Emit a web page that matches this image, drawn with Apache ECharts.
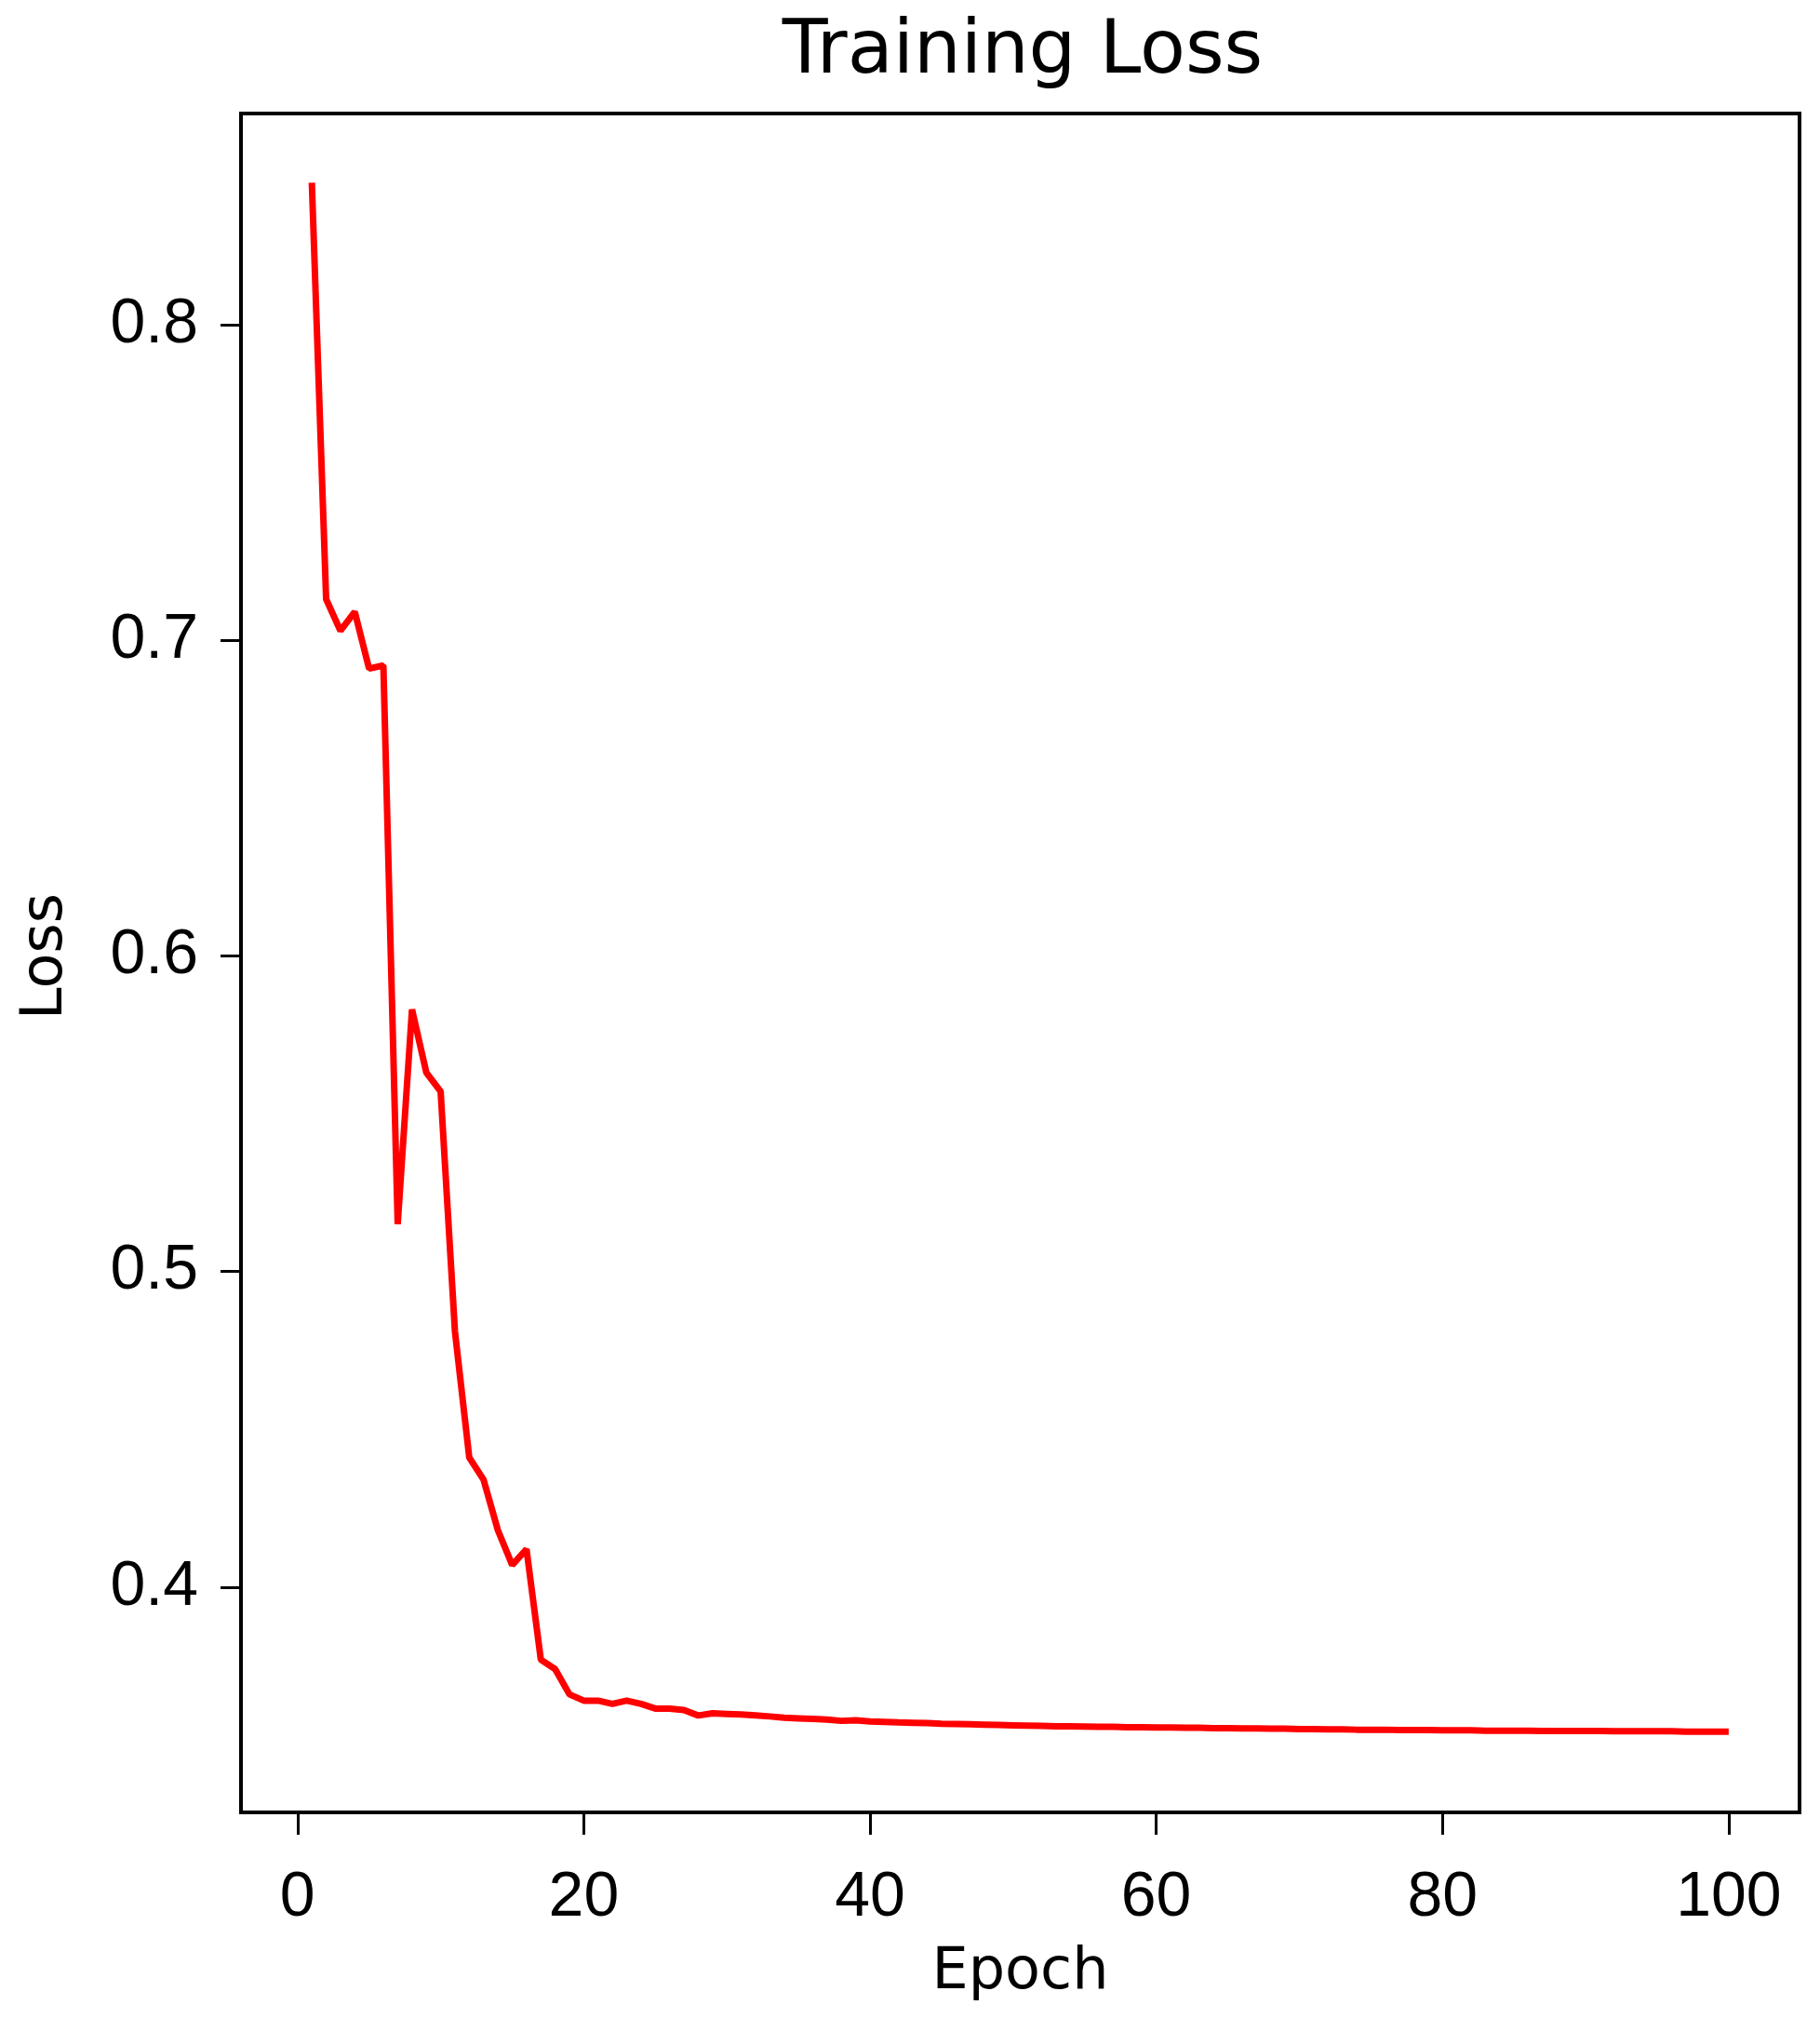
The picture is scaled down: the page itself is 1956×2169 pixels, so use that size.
<!DOCTYPE html>
<html>
<head>
<meta charset="utf-8">
<title>Training Loss</title>
<script src="https://cdn.jsdelivr.net/npm/echarts@6/dist/echarts.min.js"></script>
<style>
  html, body { margin: 0; padding: 0; background: #fff; }
  #chart { width: 1956px; height: 2169px; }
</style>
</head>
<body>
<div id="chart"></div>
<script>
// epochs on the x axis
const epochs = [
  1, 2, 3, 4, 5, 6, 7, 8, 9, 10,
  11, 12, 13, 14, 15, 16, 17, 18, 19, 20,
  21, 22, 23, 24, 25, 26, 27, 28, 29, 30,
  31, 32, 33, 34, 35, 36, 37, 38, 39, 40,
  41, 42, 43, 44, 45, 46, 47, 48, 49, 50,
  51, 52, 53, 54, 55, 56, 57, 58, 59, 60,
  61, 62, 63, 64, 65, 66, 67, 68, 69, 70,
  71, 72, 73, 74, 75, 76, 77, 78, 79, 80,
  81, 82, 83, 84, 85, 86, 87, 88, 89, 90,
  91, 92, 93, 94, 95, 96, 97, 98, 99, 100
]
// training loss per epoch
const lossValues = [
  0.845, 0.713, 0.703, 0.709, 0.691, 0.692, 0.515, 0.583, 0.563, 0.557,
  0.481, 0.441, 0.434, 0.418, 0.407, 0.412, 0.377, 0.374, 0.366, 0.364,
  0.364, 0.363, 0.364, 0.363, 0.3615, 0.3615, 0.361, 0.3593, 0.360, 0.3598,
  0.3596, 0.3593, 0.3590, 0.3586, 0.3584, 0.3582, 0.3580, 0.3576, 0.3578, 0.3574,
  0.3573, 0.3571, 0.3570, 0.3569, 0.3567, 0.3566, 0.3565, 0.3564, 0.3563, 0.3562,
  0.3561, 0.3560, 0.3559, 0.3559, 0.3558, 0.3557, 0.3557, 0.3556, 0.3556, 0.3555,
  0.3555, 0.3554, 0.3554, 0.3553, 0.3553, 0.3552, 0.3552, 0.3551, 0.3551, 0.3550,
  0.3550, 0.3549, 0.3549, 0.3548, 0.3548, 0.3548, 0.3547, 0.3547, 0.3547, 0.3546,
  0.3546, 0.3546, 0.3545, 0.3545, 0.3545, 0.3545, 0.3544, 0.3544, 0.3544, 0.3544,
  0.3544, 0.3543, 0.3543, 0.3543, 0.3543, 0.3543, 0.3542, 0.3542, 0.3542, 0.3542
]
const xTicks = [0, 20, 40, 60, 80, 100]
const yTicks = [0.4, 0.5, 0.6, 0.7, 0.8]

const chartInstance = echarts.init(document.getElementById('chart'))

const seriesData = epochs.map((e, i) => [e, lossValues[i]])

const tickFont = {
  color: '#000',
  fontFamily: "'Liberation Sans', Arial, sans-serif",
  fontSize: 68
}

const option = {
  backgroundColor: '#fff',
  animation: false,
  title: {
    text: 'Training Loss',
    left: 1094,
    top: 12,
    textAlign: 'center',
    textStyle: {
      color: '#000',
      fontFamily: 'DejaVu Sans',
      fontWeight: 'normal',
      fontSize: 80
    }
  },
  grid: {
    left: 259,
    right: 22,
    top: 122,
    bottom: 221,
    show: true,
    borderColor: '#000',
    borderWidth: 4
  },
  xAxis: {
    type: 'value',
    min: -3.95,
    max: 104.95,
    name: 'Epoch',
    nameLocation: 'middle',
    nameGap: 142,
    nameTextStyle: {
      color: '#000',
      fontFamily: 'DejaVu Sans',
      fontSize: 62
    },
    splitLine: { show: false },
    axisLine: { show: true, onZero: false, lineStyle: { color: '#000', width: 4 } },
    axisTick: {
      show: true,
      length: 24,
      customValues: xTicks,
      lineStyle: { color: '#000', width: 3 }
    },
    axisLabel: {
      ...tickFont,
      margin: 58,
      customValues: xTicks,
      formatter: (v) => String(v)
    }
  },
  yAxis: {
    type: 'value',
    min: 0.3286,
    max: 0.8669,
    name: 'Loss',
    nameLocation: 'middle',
    nameGap: 178,
    nameRotate: 90,
    nameTextStyle: {
      color: '#000',
      fontFamily: 'DejaVu Sans',
      fontSize: 62,
      padding: [0, 0, 0, 14]
    },
    splitLine: { show: false },
    axisLine: { show: true, onZero: false, lineStyle: { color: '#000', width: 4 } },
    axisTick: {
      show: true,
      length: 22,
      customValues: yTicks,
      lineStyle: { color: '#000', width: 3 }
    },
    axisLabel: {
      ...tickFont,
      margin: 46,
      customValues: yTicks,
      formatter: (v) => v.toFixed(1)
    }
  },
  series: [
    {
      type: 'line',
      data: seriesData,
      showSymbol: false,
      symbol: 'none',
      lineStyle: {
        color: '#ff0000',
        width: 7
      }
    }
  ]
}

chartInstance.setOption(option)
</script>
</body>
</html>
